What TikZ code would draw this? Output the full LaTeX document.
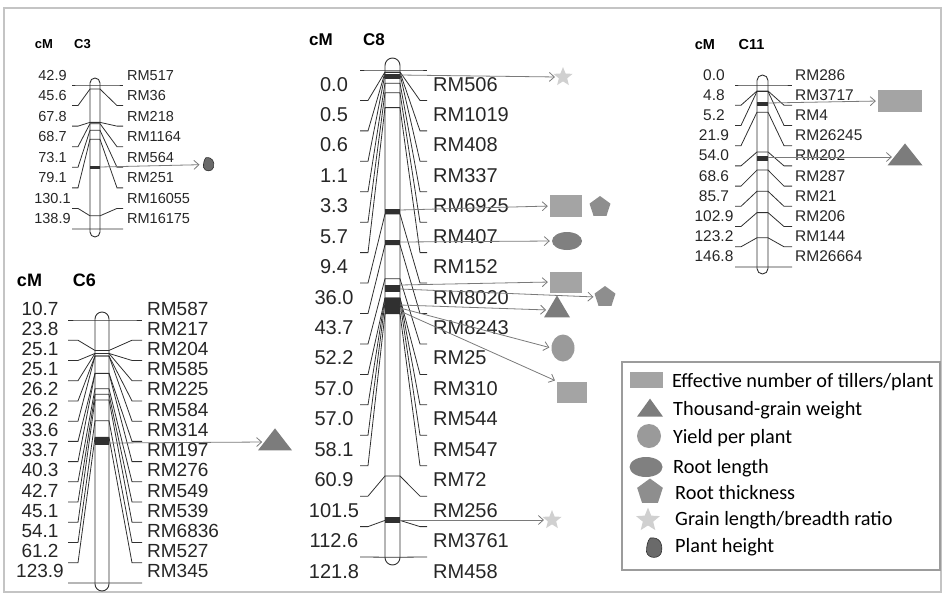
\documentclass[tikz,border=0pt]{standalone}
\usepackage{fontspec}
\setmainfont{Liberation Sans}
\newfontfamily\legfont{Carlito}
\usetikzlibrary{shapes.geometric,arrows.meta}
\definecolor{lnc}{HTML}{303030}
\definecolor{txc}{HTML}{262626}
\definecolor{arc}{HTML}{7A7A7A}
\definecolor{sqg}{HTML}{A4A4A4}
\definecolor{trg}{HTML}{7C7C7C}
\definecolor{cig}{HTML}{9A9A9A}
\definecolor{elg}{HTML}{808080}
\definecolor{peg}{HTML}{8E8E8E}
\definecolor{stg}{HTML}{D0D0D0}
\definecolor{phg}{HTML}{6A6A6A}
\definecolor{frc}{HTML}{C4C4C4}
\definecolor{lgc}{HTML}{9C9C9C}
\newcommand{\fs}[1]{\fontsize{#1}{#1}\selectfont}
\newcommand{\planthgt}[4]{%
  \begin{scope}[shift={(#1,#2)},scale=#3]
    \coordinate (#4) at (0,0);
    \filldraw[fill=phg,draw=lnc,line width=0.6pt] (-3pt,8pt) .. controls (5pt,9pt) and (7pt,3pt) .. (6pt,-3pt)
      .. controls (5pt,-9pt) and (-5pt,-9pt) .. (-6pt,-3pt) .. controls (-6pt,2pt) and (-5pt,6pt) .. (-3pt,8pt) -- cycle;
  \end{scope}}
\tikzset{
  chr/.style={draw=lnc,line width=0.9pt,fill=white,rounded corners=#1},
  mk/.style={draw=lnc,line width=0.8pt},
  band/.style={fill=lnc},
  qarr/.style={draw=arc,line width=0.8pt,-{Straight Barb[length=5pt,width=9pt]},shorten >=2pt},
  txt/.style={text=txc,inner sep=0pt},
  hd/.style={text=black,inner sep=0pt,font=\bfseries\fs{#1}},
  sqr/.style={rectangle,fill=sqg,inner sep=0pt},
  tri/.style={isosceles triangle,isosceles triangle stretches,shape border rotate=90,fill=trg,inner sep=0pt},
  cir/.style={ellipse,fill=cig,inner sep=0pt},
  ell/.style={ellipse,fill=elg,inner sep=0pt},
  pent/.style={regular polygon,regular polygon sides=5,fill=peg,inner sep=0pt},
  str/.style={star,star points=5,star point ratio=2.3,fill=stg,inner sep=0pt},
  leg/.style={inner sep=0pt,anchor=west,text=black,font=\legfont\fs{20.3}}
}
\begin{document}
\begin{tikzpicture}[x=1pt,y=-1pt]
\useasboundingbox (0,0) rectangle (943,603);
\draw[frc,line width=1.2pt] (4,8) rectangle (941,592);

\node[hd=13] (c3cm) at (44,44) {cM};
\node[hd=13] (c3t) at (82.5,44) {C3};
\draw[chr=5pt] (90,78) rectangle (100,237);
\foreach \val/\mrk [count=\i from 0] in {42.9/RM517,45.6/RM36,67.8/RM218,68.7/RM1164,73.1/RM564,79.1/RM251,130.1/RM16055,138.9/RM16175}{
  \pgfmathsetmacro\ty{85+20.57*\i}
  \pgfmathsetmacro\by{85+1.5*(\val-42.9)}
  \draw[mk] (72,\ty) -- (78,\ty) -- (90,\by) -- (100,\by) -- (117,\ty) -- (123,\ty);
  \node[txt,font=\fs{14.5},anchor=base] (c3v\i) at (52.5,\ty-5) {\val};
  \node[txt,font=\fs{14.5},anchor=base west] (c3m\i) at (127,\ty-5) {\mrk};
}
\fill[band] (90,165.5) rectangle (100,169);
\coordinate (c3q) at (100,167);
\planthgt{208.5}{164.5}{0.85}{ph1}
\draw[qarr] (c3q) -- (ph1) [shorten >=9pt];

\node[hd=18] (c6cm) at (29.5,280) {cM};
\node[hd=18] (c6t) at (84.5,280) {C6};
\draw[chr=7pt] (95,312) rectangle (109,591);
\foreach \val/\mrk [count=\i from 0] in {10.7/RM587,23.8/RM217,25.1/RM204,25.1/RM585,26.2/RM225,26.2/RM584,33.6/RM314,33.7/RM197,40.3/RM276,42.7/RM549,45.1/RM539,54.1/RM6836,61.2/RM527,123.9/RM345}{
  \pgfmathsetmacro\ty{320+20.23*\i}
  \pgfmathsetmacro\by{320+2.323*(\val-10.7)}
  \draw[mk] (68,\ty) -- (78,\ty) -- (95,\by) -- (109,\by) -- (132,\ty) -- (142,\ty);
  \node[txt,font=\fs{19},anchor=base] (c6v\i) at (40,\ty-5) {\val};
  \node[txt,font=\fs{19},anchor=base west] (c6m\i) at (147,\ty-5) {\mrk};
}
\fill[band] (95,437) rectangle (109,445);
\coordinate (c6q) at (109,443);
\node[tri,minimum width=34pt,minimum height=22pt] (tr0) at (275,442) {};
\draw[qarr] (c6q) -- (tr0.west);

\node[hd=17] (c8cm) at (321,40) {cM};
\node[hd=17] (c8t) at (374,40) {C8};
\draw[chr=7.5pt] (385,58) rectangle (400,565);
\foreach \val/\mrk [count=\i from 0] in {0.0/RM506,0.5/RM1019,0.6/RM408,1.1/RM337,3.3/RM6925,5.7/RM407,9.4/RM152,36.0/RM8020,43.7/RM8243,52.2/RM25,57.0/RM310,57.0/RM544,58.1/RM547,60.9/RM72,101.5/RM256,112.6/RM3761,121.8/RM458}{
  \pgfmathsetmacro\ty{70+30.44*\i}
  \pgfmathsetmacro\by{70+4*\val}
  \draw[mk] (360,\ty) -- (368,\ty) -- (385,\by) -- (400,\by) -- (420,\ty) -- (427,\ty);
  \node[txt,font=\fs{20},anchor=base] (c8v\i) at (334,\ty+21) {\val};
  \node[txt,font=\fs{20},anchor=base west] (c8m\i) at (433,\ty+21) {\mrk};
}
\fill[band] (385,74) rectangle (400,79);
\fill[band] (385,209) rectangle (400,214);
\fill[band] (385,240) rectangle (400,245);
\fill[band] (385,285) rectangle (400,292);
\fill[band] (385,298) rectangle (400,314);
\fill[band] (385,517) rectangle (400,523);
\coordinate (c8q1) at (400,75);
\coordinate (c8q2) at (400,210);
\coordinate (c8q3) at (400,242);
\coordinate (c8q4) at (400,285);
\coordinate (c8q5) at (400,289);
\coordinate (c8q6) at (400,305);
\coordinate (c8q7) at (400,308);
\coordinate (c8q8) at (400,311);
\coordinate (c8q9) at (400,520);
\node[str,minimum size=20pt] (st1) at (563,77) {};
\node[sqr,minimum width=32pt,minimum height=22pt] (sq1) at (566,206) {};
\node[pent,minimum size=22pt] (pe1) at (600,207) {};
\node[ell,minimum width=30pt,minimum height=18pt] (el1) at (567,241) {};
\node[sqr,minimum width=32pt,minimum height=21pt] (sq2) at (566,282) {};
\node[pent,minimum size=22pt] (pe2) at (605,297) {};
\node[tri,minimum width=26pt,minimum height=22pt] (tr1) at (557,310) {};
\node[cir,minimum width=23pt,minimum height=27pt] (ci1) at (563,348) {};
\node[sqr,minimum width=30pt,minimum height=21pt] (sq3) at (572,392) {};
\node[str,minimum size=20pt] (st2) at (552,520) {};
\draw[qarr] (c8q1) -- (st1.west);
\draw[qarr] (c8q2) -- (sq1.west);
\draw[qarr] (c8q3) -- (el1.west);
\draw[qarr] (c8q4) -- (sq2.west);
\draw[qarr] (c8q5) -- (pe2.west);
\draw[qarr] (c8q6) -- (tr1.west);
\draw[qarr] (c8q7) -- (ci1.west);
\draw[qarr] (c8q8) -- (sq3.north west);
\draw[qarr] (c8q9) -- (st2.west);

\node[hd=14.5] (c11cm) at (705,45) {cM};
\node[hd=14.5] (c11t) at (751.5,45) {C11};
\draw[chr=5.5pt] (757,75) rectangle (768,274);
\foreach \val/\mrk [count=\i from 0] in {0.0/RM286,4.8/RM3717,5.2/RM4,21.9/RM26245,54.0/RM202,68.6/RM287,85.7/RM21,102.9/RM206,123.2/RM144,146.8/RM26664}{
  \pgfmathsetmacro\ty{85+20.22*\i}
  \pgfmathsetmacro\by{85+1.24*\val}
  \draw[mk] (735,\ty) -- (741,\ty) -- (757,\by) -- (768,\by) -- (784,\ty) -- (792,\ty);
  \node[txt,font=\fs{15.5},anchor=base] (c11v\i) at (714,\ty-5) {\val};
  \node[txt,font=\fs{15.5},anchor=base west] (c11m\i) at (795,\ty-5) {\mrk};
}
\fill[band] (757,102) rectangle (768,106);
\fill[band] (757,156) rectangle (768,161);
\coordinate (c11q1) at (768,103);
\coordinate (c11q2) at (768,157);
\node[sqr,minimum width=44pt,minimum height=22pt] (sq4) at (900,101) {};
\node[tri,minimum width=35pt,minimum height=22pt] (tr2) at (905,157) {};
\draw[qarr] (c11q1) -- (sq4.west);
\draw[qarr] (c11q2) -- (tr2.west);

\draw[lgc,line width=1.3pt] (622,362) rectangle (940,570);
\node[sqr,minimum width=33pt,minimum height=16pt] (lsq) at (646,380) {};
\node[tri,minimum width=26pt,minimum height=18pt] (ltr) at (650,410) {};
\node[cir,minimum size=24pt] (lci) at (649,436) {};
\node[ell,minimum width=33pt,minimum height=20pt] (lel) at (646,467) {};
\node[pent,minimum size=27pt] (lpe) at (650,492) {};
\node[str,minimum size=25pt] (lst) at (648,520) {};
\planthgt{654}{548}{1.25}{lph}
\node[leg] (lt1) at (672,382) {Effective number of tillers/plant};
\node[leg] (lt2) at (673,410) {Thousand-grain weight};
\node[leg] (lt3) at (673,438) {Yield per plant};
\node[leg] (lt4) at (673,468) {Root length};
\node[leg] (lt5) at (675,493) {Root thickness};
\node[leg] (lt6) at (675,520) {Grain length/breadth ratio};
\node[leg] (lt7) at (675,547) {Plant height};
\end{tikzpicture}
\end{document}
